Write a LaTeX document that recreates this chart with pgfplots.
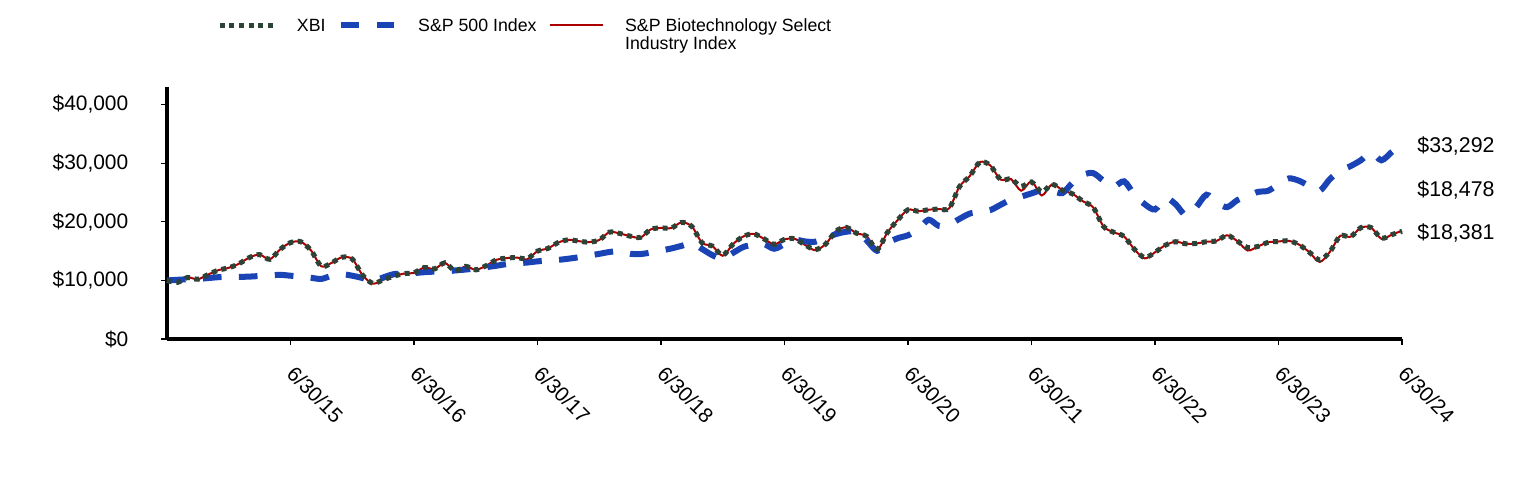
\documentclass[border=0pt]{standalone}
\usepackage{fontspec}
\setmainfont{Liberation Sans}
\usepackage{pgfplots}
\usepackage{pgfplotstable}
\pgfplotsset{compat=1.18}
\definecolor{xbicol}{RGB}{44,68,56}
\definecolor{spxcol}{RGB}{26,67,181}
\definecolor{biocol}{RGB}{172,0,0}
\pgfplotstableread{
m xbi spx bio
0 10000 10000 10000
1 9650 10100 9700
2 10500 10200 10500
3 10200 10250 10200
4 11000 10400 11000
5 11750 10550 11750
6 12150 10650 12150
7 12850 10600 12850
8 13900 10650 13900
9 14400 10750 14400
10 13600 10850 13600
11 15300 10950 15300
12 16450 10800 16450
13 16600 10650 16600
14 15100 10450 15100
15 12400 10250 12400
16 13000 10800 13000
17 13950 11050 13950
18 13650 10800 13650
19 10900 10400 10900
20 9500 9850 9450
21 10100 10500 10100
22 10700 11060 10700
23 11150 11150 11150
24 11300 11250 11300
25 12200 11400 12200
26 11950 11500 11950
27 13000 11510 13000
28 11600 11700 11500
29 12400 11850 12400
30 11800 12050 11800
31 12500 12260 12500
32 13500 12500 13500
33 13800 12780 13800
34 13900 12900 13900
35 13700 13050 13600
36 15000 13250 15000
37 15450 13400 15450
38 16450 13500 16450
39 16930 13700 16930
40 16700 13950 16700
41 16530 14250 16530
42 16900 14530 16900
43 18240 14850 18240
44 18000 15000 18000
45 17550 14550 17550
46 17350 14500 17300
47 18700 14750 18700
48 18950 15100 18950
49 18930 15450 18930
50 19900 15900 19900
51 19200 16350 19200
52 16400 15350 16400
53 15850 14300 15850
54 14300 13700 14200
55 16200 14700 16200
56 17500 15700 17500
57 17950 16100 17950
58 17100 16200 17100
59 16150 15400 16150
60 17000 16200 17000
61 17100 16930 17100
62 16050 16650 16050
63 15250 16600 15150
64 16200 17300 16200
65 18400 17900 18400
66 19050 18300 19050
67 18050 18300 18050
68 17500 16800 17500
69 15300 15050 15200
70 18180 16400 18180
71 20300 17200 20300
72 22060 17700 22060
73 21800 18700 21800
74 22060 20350 22060
75 22180 19300 22180
76 22300 19500 22300
77 26000 20500 26000
78 27800 21400 27800
79 30200 21700 30200
80 29600 22000 29600
81 27200 22900 27200
82 27300 23800 27300
83 26040 24300 25300
84 26800 24850 26900
85 25100 25400 24500
86 26400 25300 26400
87 25400 24900 25400
88 24750 26700 24750
89 23500 28000 23500
90 22450 28300 22450
91 19200 27000 19200
92 18200 26000 18200
93 17500 26900 17500
94 15300 24600 15300
95 13900 23000 13750
96 14800 22100 14800
97 16000 24060 16000
98 16600 23000 16600
99 16250 21100 16250
100 16300 22500 16300
101 16600 24620 16600
102 16750 23300 16750
103 17700 22500 17700
104 16700 23700 16700
105 15600 24400 15100
106 15800 25100 15800
107 16500 25300 16500
108 16640 26400 16640
109 16750 27400 16750
110 16100 27000 16100
111 14800 26100 14800
112 13500 25300 13150
113 14900 27300 14900
114 17600 28700 17600
115 17450 29500 17450
116 19000 30500 19000
117 19000 31800 19000
118 17200 30500 17100
119 17800 31900 17800
120 18381 33292 18478
}\datatable
\tikzset{
  xbistyle/.style={xbicol, line width=3.75pt, dash pattern=on 3.75pt off 3.5pt},
  spxstyle/.style={spxcol, line width=4.5pt, dash pattern=on 14pt off 13pt},
  biostyle/.style={biocol, line width=1.5pt},
}
\begin{document}
\begin{tikzpicture}
\begin{axis}[
  at={(0,0)}, anchor=south west,
  scale only axis, width=926.25pt, height=189pt,
  xmin=0, xmax=120, ymin=0, ymax=43000,
  scaled y ticks=false, scaled x ticks=false,
  axis x line*=bottom, axis y line*=left,
  axis line style={line width=2.6pt, black},
  tick align=outside, major tick length=4.5pt,
  tick style={black, line width=0.8pt},
  xtick={12,24,36,48,60,72,84,96,108,120},
  xticklabels={6/30/15,6/30/16,6/30/17,6/30/18,6/30/19,6/30/20,6/30/21,6/30/22,6/30/23,6/30/24},
  xticklabel style={rotate=-45, anchor=north west, font=\fontsize{15.5}{17}\selectfont, xshift=10pt, yshift=-4pt},
  ytick={0,10000,20000,30000,40000},
  yticklabels={{\$0},{\$10,000},{\$20,000},{\$30,000},{\$40,000}},
  yticklabel style={font=\fontsize{15.7}{18}\selectfont, xshift=-21pt},
  clip=false,
  legend columns=3,
  legend style={draw=none, fill=none, inner sep=0pt, at={(0.0405,1.274)}, anchor=north west,
    font=\fontsize{13.3}{13.5}\selectfont,
    nodes={inner sep=0pt, anchor=base west},
    /tikz/every odd column/.append style={column sep=16pt},
    /tikz/every even column/.append style={column sep=9pt}},
  legend image code/.code={\draw[#1] (0pt,4.5pt) -- (40pt,4.5pt);},
]
\addlegendimage{xbistyle}
\addlegendentry{XBI}
\addlegendimage{spxstyle}
\addlegendentry{S\&P 500 Index}
\addlegendimage{biostyle}
\addlegendentry{\parbox[t]{170pt}{S\&P Biotechnology Select\\Industry Index}}
\addplot[biostyle, smooth, tension=0.5, forget plot] table[x=m, y=bio] {\datatable};
\addplot[spxstyle, smooth, tension=0.5, forget plot] table[x=m, y=spx] {\datatable};
\addplot[xbistyle, smooth, tension=0.5, forget plot] table[x=m, y=xbi] {\datatable};
\node[anchor=west, font=\fontsize{16}{18}\selectfont, xshift=8pt, yshift=-1.5pt] at (axis cs:120,33292) {\$33,292};
\node[anchor=west, font=\fontsize{16}{18}\selectfont, xshift=8pt, yshift=-1.5pt] at (axis cs:120,25700) {\$18,478};
\node[anchor=west, font=\fontsize{16}{18}\selectfont, xshift=8pt, yshift=-1.5pt] at (axis cs:120,18381) {\$18,381};
\end{axis}
\pgfresetboundingbox
\path (-125.25pt,-105.75pt) rectangle (1017.75pt,254.25pt);
\end{tikzpicture}
\end{document}
